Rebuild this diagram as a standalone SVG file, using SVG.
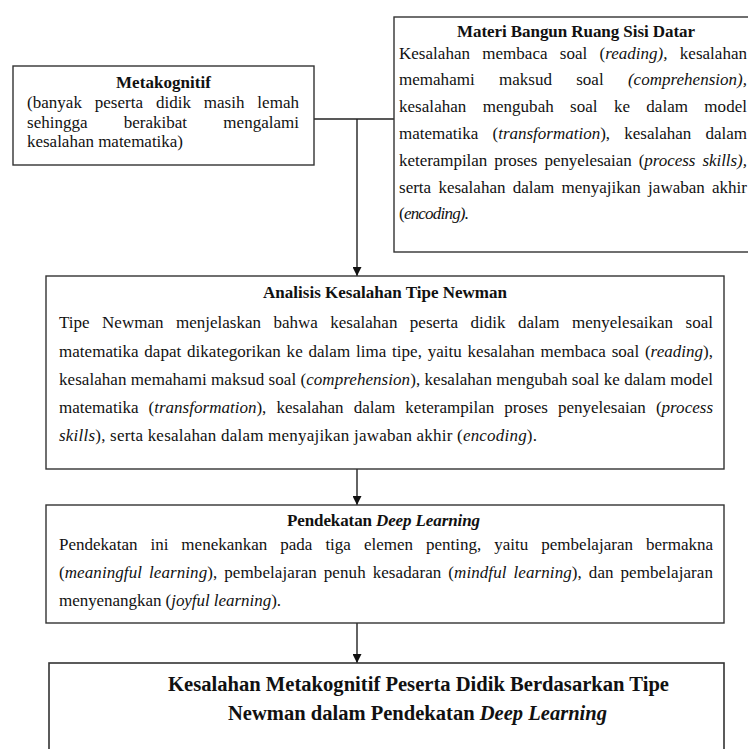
<svg xmlns="http://www.w3.org/2000/svg" width="748" height="749" viewBox="0 0 748 749">
<style>
.box{fill:#fff;stroke:#333;stroke-width:1.4}
.t{font-family:"Liberation Serif","Times New Roman",serif;font-size:17px;fill:#111}
.b{font-weight:bold}
.i{font-style:italic}
.big{font-family:"Liberation Serif","Times New Roman",serif;font-size:20.5px;font-weight:bold;fill:#111}
.con{fill:none;stroke:#222;stroke-width:1.4}
</style>
<defs>
<marker id="arr" viewBox="0 0 10 10" refX="10" refY="5" markerWidth="11" markerHeight="9" markerUnits="userSpaceOnUse" orient="auto">
<path d="M0,0 L10,5 L0,10 z" fill="#111"/>
</marker>
</defs>
<rect width="748" height="749" fill="#fff"/>
<g id="connectors">
<path class="con" d="M314,119 H394"/>
<path class="con" d="M357,119 V276" marker-end="url(#arr)"/>
<path class="con" d="M357,469 V505" marker-end="url(#arr)"/>
<path class="con" d="M357,623 V663" marker-end="url(#arr)"/>
</g>
<g id="metakognitif">
<rect class="box" x="13" y="66" width="301" height="99"/>
<text class="t b" x="163.5" y="88" text-anchor="middle" textLength="95">Metakognitif</text>
<text class="t" x="27" y="108" word-spacing="8.5" textLength="272" lengthAdjust="spacing">(banyak peserta didik masih lemah</text>
<text class="t" x="27" y="128" word-spacing="32" textLength="272" lengthAdjust="spacing">sehingga berakibat mengalami</text>
<text class="t" x="27" y="147" textLength="156">kesalahan matematika)</text>
</g>
<g id="materi">
<rect class="box" x="394" y="17" width="380" height="235"/>
<text class="t b" x="576" y="37" text-anchor="middle" textLength="238">Materi Bangun Ruang Sisi Datar</text>
<text class="t" x="399" y="58.5" word-spacing="8" textLength="348">Kesalahan membaca soal (<tspan class="i">reading),</tspan> kesalahan</text>
<text class="t" x="399" y="85.3" word-spacing="20" textLength="348">memahami maksud soal <tspan class="i">(comprehension),</tspan></text>
<text class="t" x="399" y="112" word-spacing="12" textLength="348">kesalahan mengubah soal ke dalam model</text>
<text class="t" x="399" y="139" word-spacing="10" textLength="348">matematika (<tspan class="i">transformation</tspan>), kesalahan dalam</text>
<text class="t" x="399" y="166" word-spacing="2.8" textLength="348">keterampilan proses penyelesaian (<tspan class="i">process skills),</tspan></text>
<text class="t" x="399" y="192.5" word-spacing="3" textLength="348">serta kesalahan dalam menyajikan jawaban akhir</text>
<text class="t" x="399" y="219" textLength="70">(<tspan class="i">encoding).</tspan></text>
</g>
<g id="analisis">
<rect class="box" x="46" y="276" width="678" height="193"/>
<text class="t b" x="385" y="298" text-anchor="middle" textLength="244">Analisis Kesalahan Tipe Newman</text>
<text class="t" x="59" y="328" word-spacing="8.2" textLength="654">Tipe Newman menjelaskan bahwa kesalahan peserta didik dalam menyelesaikan soal</text>
<text class="t" x="59" y="356.5" word-spacing="1.5" textLength="654">matematika dapat dikategorikan ke dalam lima tipe, yaitu kesalahan membaca soal (<tspan class="i">reading</tspan>),</text>
<text class="t" x="59" y="384.5" textLength="654">kesalahan memahami maksud soal (<tspan class="i">comprehension</tspan>), kesalahan mengubah soal ke dalam model</text>
<text class="t" x="59" y="413" word-spacing="5.8" textLength="654">matematika (<tspan class="i">transformation</tspan>), kesalahan dalam keterampilan proses penyelesaian (<tspan class="i">process</tspan></text>
<text class="t" x="59" y="441" textLength="478"><tspan class="i">skills</tspan>), serta kesalahan dalam menyajikan jawaban akhir (<tspan class="i">encoding</tspan>).</text>
</g>
<g id="pendekatan">
<rect class="box" x="46" y="505" width="678" height="118"/>
<text class="t b" x="383.5" y="526" text-anchor="middle" textLength="193">Pendekatan <tspan class="i">Deep Learning</tspan></text>
<text class="t" x="59" y="550" word-spacing="8.7" textLength="654">Pendekatan ini menekankan pada tiga elemen penting, yaitu pembelajaran bermakna</text>
<text class="t" x="59" y="578" word-spacing="2.6" textLength="654">(<tspan class="i">meaningful learning</tspan>), pembelajaran penuh kesadaran (<tspan class="i">mindful learning</tspan>), dan pembelajaran</text>
<text class="t" x="59" y="606" textLength="222">menyenangkan (<tspan class="i">joyful learning</tspan>).</text>
</g>
<g id="hasil">
<rect class="box" x="49" y="663" width="675" height="110" style="stroke-width:1.6"/>
<text class="big" x="418.5" y="691" text-anchor="middle" textLength="501" lengthAdjust="spacingAndGlyphs">Kesalahan Metakognitif Peserta Didik Berdasarkan Tipe</text>
<text class="big" x="417.5" y="720" text-anchor="middle" textLength="379" lengthAdjust="spacingAndGlyphs">Newman dalam Pendekatan <tspan class="i">Deep Learning</tspan></text>
</g>
</svg>
